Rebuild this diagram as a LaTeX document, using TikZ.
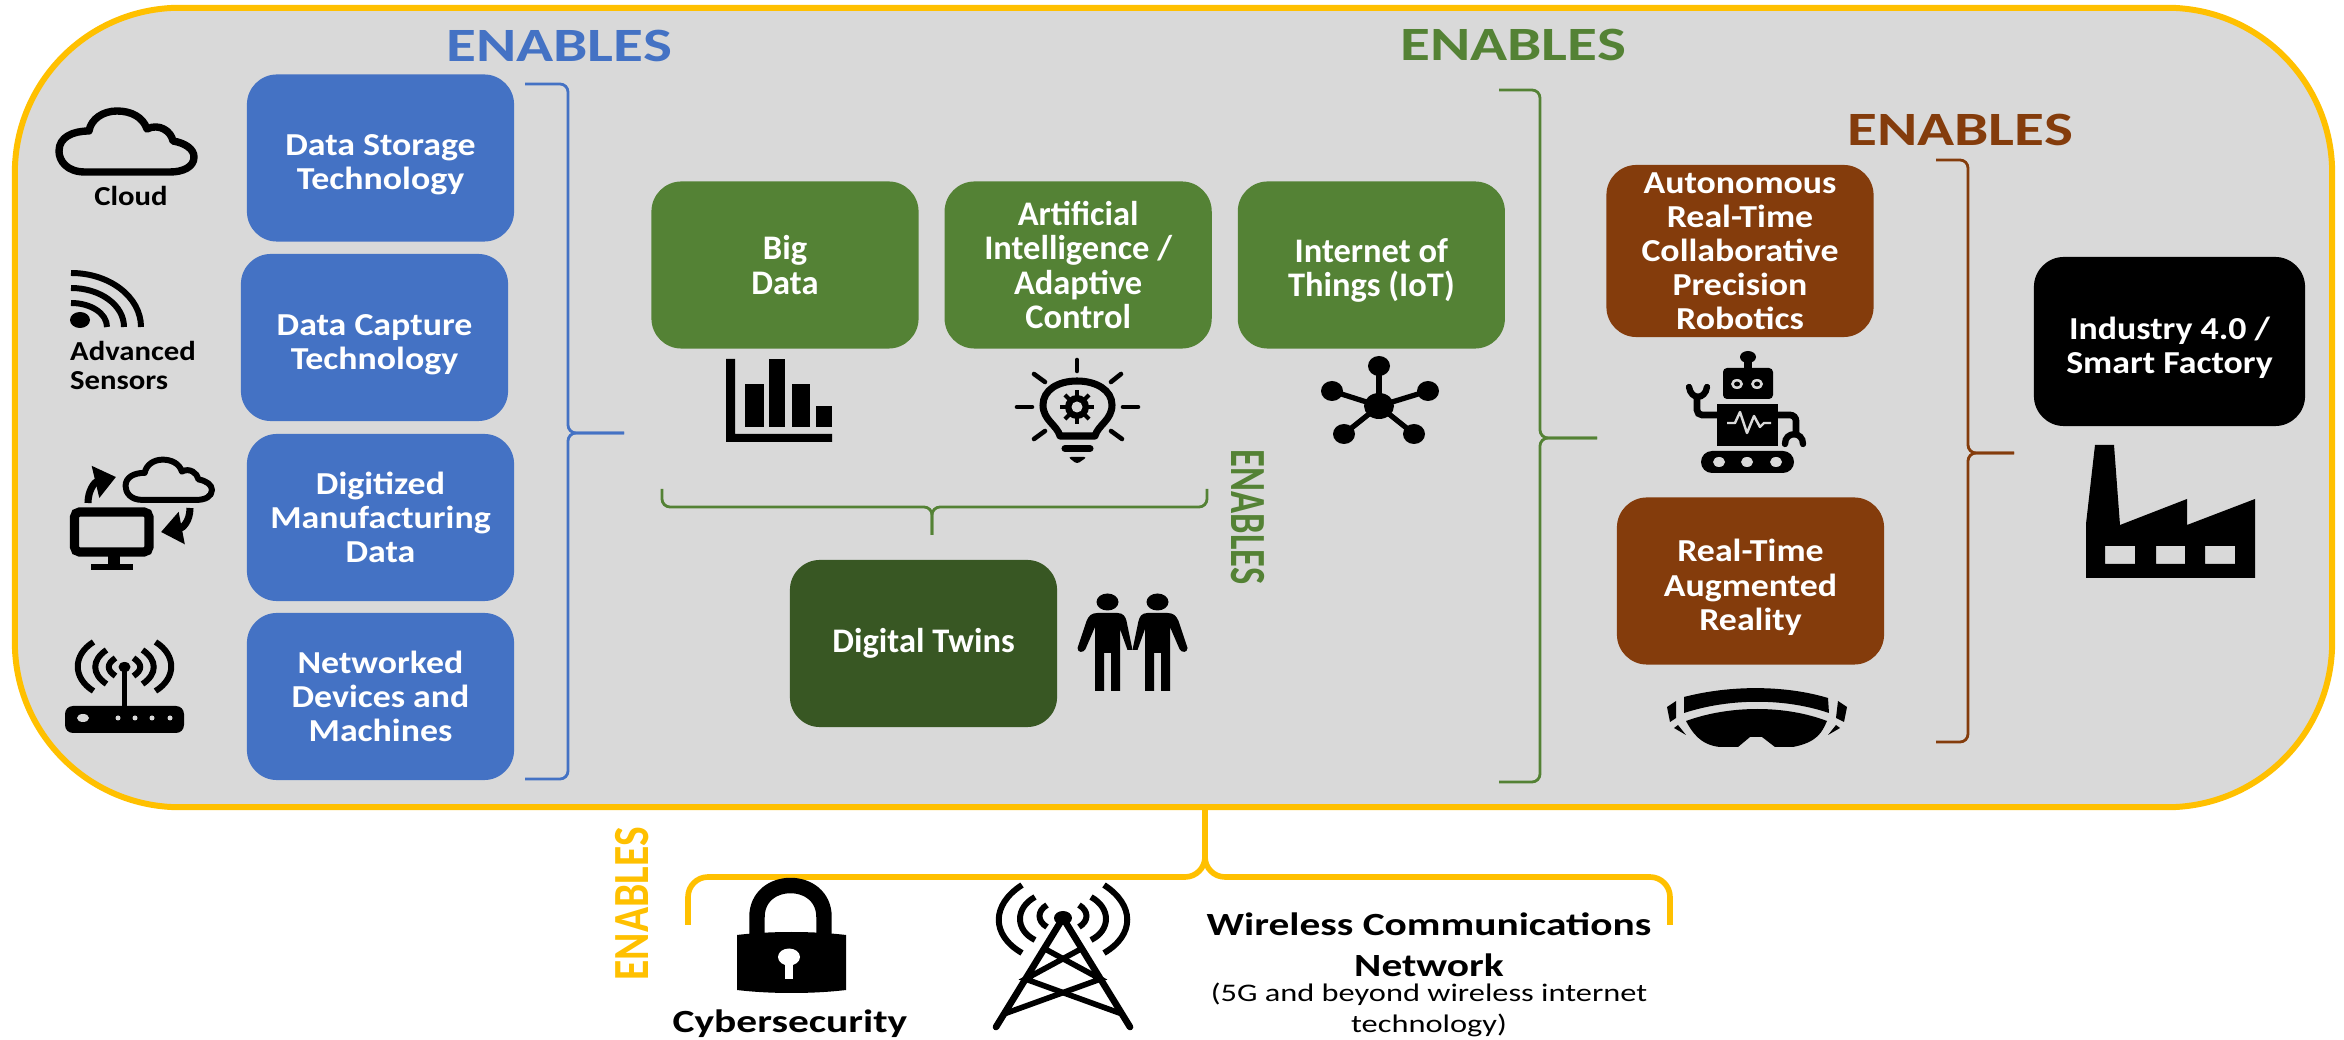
\documentclass[tikz,border=0pt]{standalone}
\usepackage{fontspec}
\usetikzlibrary{arrows.meta,calc}
\setmainfont{Carlito}
\newfontfamily\boxfont[FakeStretch=1.12]{Carlito}
\newfontfamily\widefont[FakeStretch=1.28]{Carlito}
\newfontfamily\slimfont[FakeStretch=0.72]{Carlito}
\newfontfamily\lowfont[FakeStretch=0.82]{Carlito}

\definecolor{frameyellow}{HTML}{FFC000}
\definecolor{framegray}{HTML}{D9D9D9}
\definecolor{techblue}{HTML}{4472C4}
\definecolor{techgreen}{HTML}{548235}
\definecolor{twingreen}{HTML}{385723}
\definecolor{robobrown}{HTML}{843C0C}

\tikzset{
	techbox/.style={rectangle, rounded corners=0.3cm, minimum width=2.67cm, minimum height=1.67cm, inner sep=0pt, align=center, text=white, font={\boxfont\fontsize{9.1}{9.7}\selectfont\bfseries}},
	bluebox/.style={techbox, fill=techblue},
	greenbox/.style={techbox, fill=techgreen, font={\fontsize{9.8}{9.7}\selectfont\bfseries}},
	twinbox/.style={techbox, fill=twingreen, font={\fontsize{9.8}{9.7}\selectfont\bfseries}},
	brownbox/.style={techbox, fill=robobrown},
	blackbox/.style={techbox, fill=black, minimum width=2.71cm, minimum height=1.69cm},
	enables/.style={font={\widefont\fontsize{13.6}{16}\selectfont\bfseries}},
	sideenables/.style={font={\slimfont\fontsize{14.4}{16}\selectfont\bfseries}},
	lowenables/.style={font={\lowfont\fontsize{14.4}{16}\selectfont\bfseries}},
	iconlabel/.style={align=left, inner sep=0pt, font={\boxfont\fontsize{7.8}{8.2}\selectfont\bfseries}},
	bigtext/.style={align=center, inner sep=0pt, font={\widefont\fontsize{9.2}{10.8}\selectfont\bfseries}},
	smalltext/.style={align=center, inner sep=0pt, font={\widefont\fontsize{7.2}{7.4}\selectfont}},
	curlyline/.style={rounded corners=0.8mm, line width=0.8pt},
	iconline/.style={line width=1.3pt, line cap=round},
	cloudicon/.pic={
		\draw[line width=#1, line join=round] (30,65) .. controls (12,65) and (4,54) .. (4,44)
			.. controls (4,30) and (18,24) .. (34,24)
			.. controls (36,12) and (48,4) .. (62,4)
			.. controls (76,4) and (88,10) .. (92,22)
			.. controls (104,16) and (116,24) .. (118,34)
			.. controls (130,36) and (139,42) .. (139,50)
			.. controls (139,60) and (128,65) .. (115,65) -- cycle;
	}
}

% pushes the lines of a box down a little
\newcommand{\dropline}{\rule{0pt}{10pt}}
% brace standing upright, tip to the right
\newcommand{\vcurly}[5]{
	\draw[curlyline, #1] (#2) -- (#5|-#2) -- (#5|-#4) -- (#4);
	\draw[curlyline, #1] (#3) -- (#5|-#3) -- (#5|-#4) -- (#4);
}
% brace lying flat, tip up or down
\newcommand{\hcurly}[5]{
	\draw[curlyline, #1] (#2) -- (#2|-#5) -- (#4|-#5) -- (#4);
	\draw[curlyline, #1] (#3) -- (#3|-#5) -- (#4|-#5) -- (#4);
}

\begin{document}
\begin{tikzpicture}[x=0.01cm, y=-0.01cm, node distance=2.93cm]
	\useasboundingbox (0,0) rectangle (2344,1040);

	\node[rectangle, rounded corners=1.65cm, draw=frameyellow, fill=framegray, line width=1.7pt, minimum width=23.16cm, minimum height=7.99cm, inner sep=0pt] (frame) at (1173.5,407.5) {};

	% blue column
	\node[bluebox] (storage) at (380.5,158) {\dropline Data Storage\\Technology};
	\node[bluebox] (capture) at (374.5,337.5) {\dropline Data Capture\\Technology};
	\node[bluebox] (digitized) at (380.5,517.5) {Digitized\\Manufacturing\\Data};
	\node[bluebox] (networked) at (380.5,696.5) {Networked\\Devices and\\Machines};
	\node[enables, text=techblue] (enablesblue) at (559,46) {ENABLES};

	\coordinate (bluetop) at (525,84);
	\coordinate (bluebot) at (525,779);
	\coordinate (bluetip) at (624,433);
	\coordinate (bluespine) at (568,433);
	\vcurly{techblue}{bluetop}{bluebot}{bluetip}{bluespine}

	% green row
	\node[greenbox] (bigdata) at (785,265) {Big\\Data};
	\node[greenbox, right of=bigdata] (ai) {Artificial\\Intelligence /\\Adaptive\\Control};
	\node[greenbox, right of=ai] (iot) {\dropline Internet of\\Things (IoT)};
	\node[twinbox] (twins) at (923.5,643.5) {Digital Twins};
	\node[enables, text=techgreen] (enablesgreen) at (1513,45) {ENABLES};
	\node[sideenables, text=techgreen, rotate=-90] (enablestwins) at (1248,517) {ENABLES};

	\coordinate (twinleft) at (662,489);
	\coordinate (twinright) at (1207,489);
	\coordinate (twintip) at (932,535);
	\coordinate (twinspine) at (932,507);
	\hcurly{techgreen}{twinleft}{twinright}{twintip}{twinspine}

	\coordinate (greentop) at (1499,90);
	\coordinate (greenbot) at (1499,782);
	\coordinate (greentip) at (1597,438);
	\coordinate (greenspine) at (1540,438);
	\vcurly{techgreen}{greentop}{greenbot}{greentip}{greenspine}

	% brown column
	\node[brownbox, minimum height=1.72cm] (robotics) at (1740,251) {Autonomous\\Real-Time\\Collaborative\\Precision\\Robotics};
	\node[brownbox] (augmented) at (1750.5,581) {\dropline Real-Time\\Augmented\\Reality};
	\node[enables, text=robobrown] (enablesbrown) at (1960,130) {ENABLES};

	\coordinate (browntop) at (1936,160);
	\coordinate (brownbot) at (1936,742);
	\coordinate (browntip) at (2014,453);
	\coordinate (brownspine) at (1968,453);
	\vcurly{robobrown}{browntop}{brownbot}{browntip}{brownspine}

	\node[blackbox] (factory) at (2169.5,341.5) {\dropline Industry 4.0 /\\Smart Factory};

	% bottom brace
	\coordinate (yellowleft) at (688,925);
	\coordinate (yellowright) at (1670,925);
	\coordinate (yellowtip) at (1205,807);
	\coordinate (yellowspine) at (1205,877);
	\hcurly{frameyellow, line width=1.6pt, rounded corners=2mm}{yellowleft}{yellowright}{yellowtip}{yellowspine}
	\node[lowenables, text=frameyellow, rotate=90] (enablesyellow) at (632,904) {ENABLES};

	\node[bigtext] (cyber) at (790,1024) {Cybersecurity};
	\node[bigtext] (wireless) at (1429,945) {Wireless Communications\\[0.1em]Network};
	\node[smalltext] (fiveg) at (1429,1010) {(5G and beyond wireless internet\\[0.2em]technology)};

	% cloud icon
	\pic[shift={(55,107)}] {cloudicon=2.1pt};
	\node[iconlabel] (cloudlabel) at (131,196) {Cloud};

	% sensor icon
	\fill (80,320) ellipse [x radius=10, y radius=8];
	\foreach \rx/\ry in {70/53, 53/38, 36/23}
		\draw[line width=1.7pt] (71,326-\ry) .. controls (71+0.55*\rx,326-\ry) and (71+\rx,326-0.55*\ry) .. (71+\rx,327);
	\node[iconlabel] (sensorlabel) at (133,365.5) {Advanced\\Sensors};

	% computer and cloud icon
	\pic[shift={(123,457)}, xscale=0.64, yscale=0.66] {cloudicon=1.7pt};
	\draw[line width=2.6pt, rounded corners=0.5mm] (74.5,512) rectangle (149,552);
	\fill (108,552) rectangle (120,566);
	\fill (91,564) rectangle (133,570);
	\draw[line width=2pt, -{Triangle[width=9pt,length=6pt]}] (88,503) .. controls (88,490) and (95,482) .. (116,477);
	\draw[line width=2pt, -{Triangle[width=9pt,length=6pt]}] (190,508) .. controls (190,522) and (182,528) .. (161,532);

	% router icon
	\fill[rounded corners=0.8mm] (65,706) rectangle (184,733);
	\fill[framegray] (83,718) ellipse [x radius=6, y radius=4];
	\foreach \lx in {118,135,152,170}
		\fill[framegray] (\lx,718) circle [radius=2.5];
	\draw[line width=1.7pt] (124.5,667) -- (124.5,706);
	\fill (124.5,667) ellipse [x radius=6, y radius=5];
	\foreach \side in {-1,1}{
		\draw[line width=1.7pt] (124.5+\side*31,642) .. controls (124.5+\side*52,655) and (124.5+\side*52,678) .. (124.5+\side*31,691);
		\draw[line width=1.7pt] (124.5+\side*18,650) .. controls (124.5+\side*33,660) and (124.5+\side*33,674) .. (124.5+\side*18,684);
		\draw[line width=1.7pt] (124.5+\side*9,658) .. controls (124.5+\side*18,664) and (124.5+\side*18,670) .. (124.5+\side*9,676);
	}

	% bar chart icon
	\fill (726,359) -- (735,359) -- (735,434) -- (832,434) -- (832,442) -- (726,442) -- cycle;
	\foreach \barl/\barr/\bartop in {745/764/384, 769/785/359, 792/810/384, 816/832/406}
		\fill (\barl,\bartop) rectangle (\barr,427);

	% bulb icon
	\draw[line width=2pt, line join=round] (1060,436) .. controls (1057,425) and (1043,420) .. (1043,405)
		.. controls (1043,390) and (1058,381) .. (1077,381)
		.. controls (1096,381) and (1112,390) .. (1112,405)
		.. controls (1112,420) and (1098,425) .. (1095,436) -- cycle;
	\foreach \xa/\ya/\xb/\yb in {1077/360/1077/371, 1034/374/1045/382, 1121/374/1111/382, 1017/407/1032/407, 1123/407/1138/407, 1034/439/1045/431, 1122/439/1111/431}
		\draw[iconline] (\xa,\ya) -- (\xb,\yb);
	\fill (1077,407) circle [radius=12];
	\foreach \ang in {0,45,...,315}
		\draw[line width=1.2pt] (1077,407) -- ++(\ang:17);
	\fill[framegray] (1077,407) circle [radius=5.5];
	\draw[line width=2pt, line cap=round] (1065,448.5) -- (1090,448.5);
	\fill[rounded corners=0.3mm] (1068,457) -- (1087,457) -- (1077,464) -- cycle;

	% network icon
	\foreach \xn/\yn in {1379/366, 1332/391, 1428/391, 1344/434, 1414/434}{
		\draw[line width=1.5pt] (1379,406) -- (\xn,\yn);
		\fill (\xn,\yn) ellipse [x radius=11, y radius=10];
	}
	\fill (1379,406) ellipse [x radius=15, y radius=13];

	% twins icon
	\foreach \xp/\flip in {1107.5/1, 1157.5/-1}{
		\fill (\xp,602) ellipse [x radius=11, y radius=8.5];
		\fill (\xp-\flip*10,613) -- (\xp+\flip*10,613)
			.. controls (\xp+\flip*16,613) and (\xp+\flip*18,617) .. (\xp+\flip*19,621)
			-- (\xp+\flip*25,650) -- (\xp+\flip*20,650) -- (\xp+\flip*12.5,629) -- (\xp+\flip*12.5,691) -- (\xp+\flip*3.5,691) -- (\xp+\flip*3.5,653) -- (\xp-\flip*3.5,653) -- (\xp-\flip*3.5,691) -- (\xp-\flip*12.5,691) -- (\xp-\flip*12.5,627) -- (\xp-\flip*22,649)
			.. controls (\xp-\flip*24,653) and (\xp-\flip*30,653) .. (\xp-\flip*30,648)
			-- (\xp-\flip*21,621) .. controls (\xp-\flip*19,616) and (\xp-\flip*16,613) .. (\xp-\flip*10,613) -- cycle;
	}

	% robot icon
	\fill (1748,357) ellipse [x radius=8, y radius=6];
	\draw[line width=2.2pt] (1748,357) -- (1748,369);
	\fill[rounded corners=0.4mm] (1723,368) rectangle (1773,399);
	\foreach \xe in {1737,1757}{
		\fill[framegray] (\xe,384) ellipse [x radius=6, y radius=5];
		\fill (\xe,384) ellipse [x radius=3, y radius=2.5];
	}
	\fill (1717,404) rectangle (1778,446);
	\draw[framegray, line width=0.7pt, line join=round] (1727,423) -- (1735,423) -- (1740,412) -- (1747,433) -- (1754,416) -- (1760,427) -- (1764,423) -- (1771,423);
	\draw[line width=1.9pt, rounded corners=0.5mm] (1717,415) -- (1697,415) -- (1697,396);
	\draw[line width=1.8pt, line cap=round] (1689,387) .. controls (1691,400) and (1705,400) .. (1707,387);
	\draw[line width=1.9pt, rounded corners=0.6mm] (1778,415) -- (1796,415) -- (1796,436);
	\draw[line width=1.8pt, line cap=round] (1785,444) .. controls (1785,431) and (1803,431) .. (1803,444);
	\fill[rounded corners=1.1mm] (1701,451) rectangle (1794,473);
	\foreach \xw in {1719,1747,1776}
		\fill[framegray] (\xw,462) ellipse [x radius=6, y radius=5];

	% visor icon
	\fill (1684,697) .. controls (1730,685) and (1785,685) .. (1828,698) -- (1829,713) .. controls (1785,698) and (1730,698) .. (1684,713) -- cycle;
	\fill (1686,721) .. controls (1730,705) and (1785,705) .. (1827,721) .. controls (1822,732) and (1818,742) .. (1793,747) -- (1775,747) -- (1762,737) -- (1750,737) -- (1738,747) -- (1720,747) .. controls (1700,745) and (1692,732) .. (1686,721) -- cycle;
	\fill (1667,707) -- (1676,701) -- (1676,718) -- (1670,722) -- cycle;
	\fill (1847,707) -- (1838,701) -- (1836,718) -- (1844,722) -- cycle;
	\fill (1674,728) -- (1678,725) -- (1686,735) -- cycle;
	\fill (1840,728) -- (1836,725) -- (1828,735) -- cycle;

	% factory icon
	\fill[even odd rule] (2095,445) -- (2114,445) -- (2120,525) -- (2187,499) -- (2187,525) -- (2255,499) -- (2255,578) -- (2086,578) -- (2086,524) -- cycle
		(2105,546) rectangle (2135,564) (2156,546) rectangle (2185,564) (2205,546) rectangle (2235,564);

	% lock icon
	\draw[line width=4.4pt] (757,940) -- (757,917) .. controls (757,875) and (824,875) .. (824,917) -- (824,940);
	\fill (737,935) .. controls (770,931) and (813,931) .. (846,935) -- (846,990) .. controls (813,994) and (770,994) .. (737,990) -- cycle;
	\fill[white] (789,957) ellipse [x radius=11, y radius=8.5];
	\fill[white] (785,957) -- (793,957) -- (793,979) -- (785,979) -- cycle;

	% tower icon
	\coordinate (apex) at (1063,918);
	\coordinate (legl) at (996,1027);
	\coordinate (legr) at (1130,1027);
	\fill (apex) ellipse [x radius=9, y radius=7];
	\draw[line width=1.9pt, line cap=round] (legl) -- (apex) -- (legr);
	\draw[line width=1.6pt] ($(apex)!0.28!(legl)$) -- ($(apex)!0.56!(legr)$) -- ($(apex)!0.88!(legl)$);
	\draw[line width=1.6pt] ($(apex)!0.28!(legr)$) -- ($(apex)!0.56!(legl)$) -- ($(apex)!0.88!(legr)$);
	\foreach \side in {-1,1}{
		\draw[line width=1.7pt] (1063+\side*41,885) .. controls (1063+\side*72,905) and (1063+\side*72,935) .. (1063+\side*41,953);
		\draw[line width=1.7pt] (1063+\side*28,897) .. controls (1063+\side*48,908) and (1063+\side*48,930) .. (1063+\side*28,940);
		\draw[line width=1.7pt] (1063+\side*16,905) .. controls (1063+\side*26,911) and (1063+\side*26,921) .. (1063+\side*16,927);
	}
\end{tikzpicture}
\end{document}
